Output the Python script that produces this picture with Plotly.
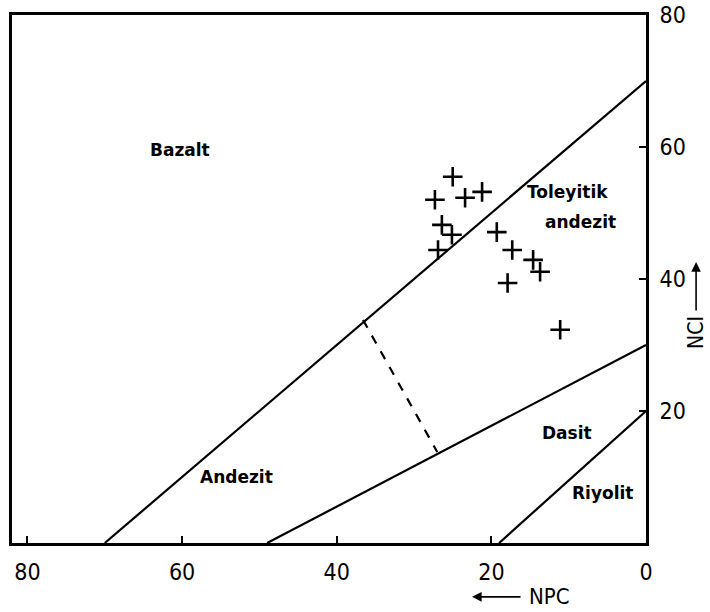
import plotly.graph_objects as go

# sample points (NPC, NCI)
npc = [25.0, 27.3, 23.4, 21.2, 26.4, 25.1, 26.9, 19.3, 17.3, 14.6, 13.7, 17.9, 11.1]
nci = [55.5, 52.0, 52.3, 53.2, 48.2, 46.7, 44.4, 47.1, 44.4, 42.9, 41.1, 39.4, 32.3]

# field boundary lines
line1_x = [70, 0]
line1_y = [0, 70]
line2_x = [49, 0]
line2_y = [0, 30]
line3_x = [19, 0]
line3_y = [0, 20]
dash_x = [36.6, 27.0]
dash_y = [33.8, 13.8]

# field labels
field_names = ["Bazalt", "Toleyitik", "andezit", "Andezit", "Dasit", "Riyolit"]
field_x = [60.3, 10.2, 8.5, 53.0, 10.2, 5.6]
field_y = [59.5, 53.2, 48.6, 10.0, 16.7, 7.6]

x_ticks = [80, 60, 40, 20, 0]
y_ticks = [20, 40, 60, 80]

fig = go.Figure()
for lx, ly in [(line1_x, line1_y), (line2_x, line2_y), (line3_x, line3_y)]:
    fig.add_trace(go.Scatter(x=lx, y=ly, mode="lines",
                             line=dict(color="black", width=2.2),
                             showlegend=False, hoverinfo="skip"))
fig.add_trace(go.Scatter(x=dash_x, y=dash_y, mode="lines",
                         line=dict(color="black", width=2.2, dash="dash"),
                         showlegend=False, hoverinfo="skip"))
fig.add_trace(go.Scatter(x=npc, y=nci, mode="markers",
                         marker=dict(symbol="cross-thin", size=14, color="black",
                                     line=dict(color="black", width=2.6)),
                         showlegend=False))

for name, fx, fy in zip(field_names, field_x, field_y):
    fig.add_annotation(x=fx, y=fy, text=name, showarrow=False,
                       font=dict(family="DejaVu Sans", size=17, color="black", weight="bold"))

axis_font = dict(family="DejaVu Sans Condensed", size=22, color="black")
# x-axis title with leftward arrow
fig.add_annotation(xref="paper", yref="paper", x=0.848, y=-0.102,
                   text="NPC", showarrow=False, xanchor="center", yanchor="middle",
                   font=axis_font)
fig.add_annotation(xref="paper", yref="paper", x=0.7256, y=-0.102, text="",
                   showarrow=True, axref="pixel", ayref="pixel", ax=50, ay=0,
                   arrowhead=2, arrowsize=1.2, arrowwidth=1.6, arrowcolor="black")
# y-axis title with upward arrow
fig.add_annotation(xref="paper", yref="paper", x=1.079, y=0.398,
                   text="NCI", showarrow=False, textangle=-90,
                   xanchor="center", yanchor="middle",
                   font=dict(family="DejaVu Sans Condensed", size=21, color="black"))
fig.add_annotation(xref="paper", yref="paper", x=1.079, y=0.532, text="",
                   showarrow=True, axref="pixel", ayref="pixel", ax=0, ay=50,
                   arrowhead=2, arrowsize=1.2, arrowwidth=1.6, arrowcolor="black")

fig.update_xaxes(range=[82, 0], tickvals=x_ticks, ticktext=[str(v) for v in x_ticks],
                 ticks="inside", ticklen=7, tickwidth=2, tickcolor="black",
                 showline=True, linecolor="black", linewidth=3, mirror=True,
                 showgrid=False, zeroline=False, ticklabelstandoff=6, automargin=False,
                 tickfont=dict(family="DejaVu Sans Condensed", size=23, color="black"))
fig.update_yaxes(range=[0, 80], side="right", tickvals=y_ticks,
                 ticktext=[str(v) for v in y_ticks],
                 ticks="inside", ticklen=7, tickwidth=2, tickcolor="black",
                 showline=True, linecolor="black", linewidth=3, mirror=True,
                 showgrid=False, zeroline=False, ticklabelstandoff=6, automargin=False,
                 tickfont=dict(family="DejaVu Sans Condensed", size=23, color="black"))

fig.update_layout(width=710, height=612, margin=dict(l=12, r=64, t=15, b=69, autoexpand=False),
                  plot_bgcolor="white", paper_bgcolor="white", showlegend=False)

fig.write_html("out.html", config={"displayModeBar": False},
               post_script="document.body.style.margin='0px';document.body.style.overflow='hidden';")
